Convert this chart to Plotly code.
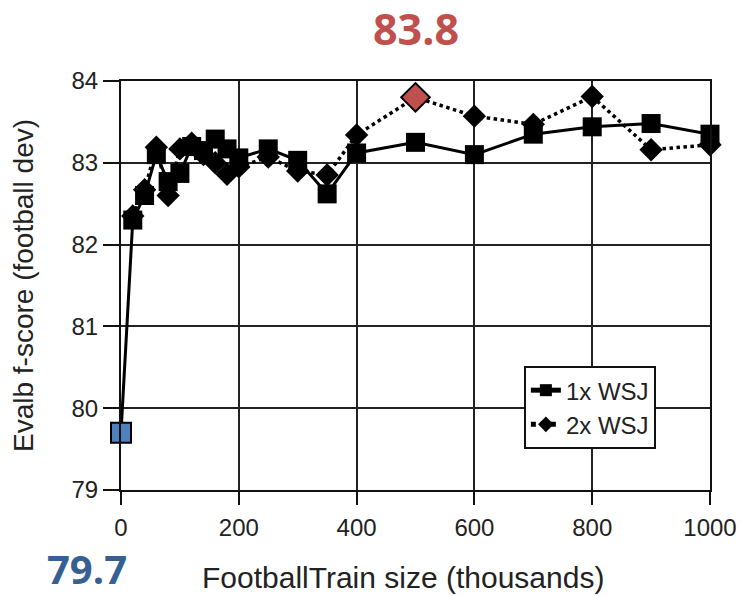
import plotly.graph_objects as go

# Training-set sizes (thousands of football sentences)
x_1x = [0, 20, 40, 60, 80, 100, 120, 140, 160, 180, 200, 250, 300, 350, 400, 500, 600, 700, 800, 900, 1000]
f_1x = [79.7, 82.30, 82.60, 83.10, 82.77, 82.87, 83.20, 83.15, 83.29, 83.17, 83.06, 83.17, 83.03, 82.62,
        83.12, 83.25, 83.10, 83.35, 83.44, 83.48, 83.35]

x_2x = [20, 40, 60, 80, 100, 120, 140, 160, 180, 200, 250, 300, 350, 400, 500, 600, 700, 800, 900, 1000]
f_2x = [82.35, 82.67, 83.19, 82.60, 83.17, 83.24, 83.10, 83.00, 82.86, 82.95, 83.07, 82.90, 82.85, 83.34,
        83.8, 83.57, 83.47, 83.81, 83.16, 83.22]

series_names = ["1x WSJ", "2x WSJ"]
x_ticks = [0, 200, 400, 600, 800, 1000]
y_ticks = [79, 80, 81, 82, 83, 84]

# Highlighted points: the baseline (first 1x point) and the 2x peak at 500k
base_idx = 0
peak_idx = x_2x.index(500)

INK = "#222222"
RED = "#C0504D"
BLUE = "#4F81BD"
BLUE_TEXT = "#376092"
AX_FONT = "Liberation Sans, Arial, sans-serif"

fig = go.Figure()

fig.add_trace(go.Scatter(
    x=x_2x, y=f_2x, name=series_names[1], mode="lines+markers",
    line=dict(color="black", width=3.5, dash="dot"),
    marker=dict(symbol="diamond", size=18, color="black"),
    cliponaxis=False, legendrank=2,
))
fig.add_trace(go.Scatter(
    x=x_1x, y=f_1x, name=series_names[0], mode="lines+markers",
    line=dict(color="black", width=3),
    marker=dict(symbol="square", size=19, color="black"),
    cliponaxis=False, legendrank=1,
))

# Coloured highlight markers
fig.add_trace(go.Scatter(
    x=[x_1x[base_idx]], y=[f_1x[base_idx]], mode="markers", showlegend=False,
    marker=dict(symbol="square", size=20, color=BLUE, line=dict(color="black", width=2)),
    cliponaxis=False,
))
fig.add_trace(go.Scatter(
    x=[x_2x[peak_idx]], y=[f_2x[peak_idx]], mode="markers", showlegend=False,
    marker=dict(symbol="diamond", size=22, color=RED, line=dict(color="black", width=2)),
    cliponaxis=False,
))

# Value call-outs for the highlighted points
fig.add_annotation(
    x=x_2x[peak_idx], xref="x", y=1.128, yref="paper",
    xanchor="center", yanchor="middle",
    text=f"{f_2x[peak_idx]:.1f}", showarrow=False,
    font=dict(family="Open Sans", size=43, color=RED, weight="bold"),
)
fig.add_annotation(
    x=x_1x[base_idx], xref="x", xshift=-34, y=-0.191, yref="paper",
    xanchor="center", yanchor="middle",
    text=f"{f_1x[base_idx]:.1f}", showarrow=False,
    font=dict(family="Open Sans", size=40, color=BLUE_TEXT, weight="bold"),
)

# x-axis title, placed as text under the tick labels
fig.add_annotation(
    x=0.479, xref="paper", y=-0.215, yref="paper",
    xanchor="center", yanchor="middle",
    text="FootballTrain size (thousands)", showarrow=False,
    font=dict(family=AX_FONT, size=30, color=INK),
)

axis_common = dict(
    showline=True, linecolor="#111111", linewidth=2, mirror=True,
    showgrid=True, gridcolor="#222222", gridwidth=2,
    ticks="outside", tickcolor="#111111", tickwidth=2,
    tickfont=dict(family=AX_FONT, size=24, color=INK),
    zeroline=False, automargin=False,
)

fig.update_xaxes(
    range=[0, 1000], tickvals=x_ticks, ticklen=13, ticklabelstandoff=2,
    **axis_common,
)
fig.update_yaxes(
    range=[79, 84], tickvals=y_ticks, ticklen=16,
    title=dict(text="Evalb f-score (football dev)",
               font=dict(family=AX_FONT, size=28, color=INK), standoff=30),
    **axis_common,
)

fig.update_layout(
    width=742, height=596,
    margin=dict(l=121, r=32, t=81, b=106),
    paper_bgcolor="white", plot_bgcolor="white",
    showlegend=True,
    legend=dict(
        x=0.684, y=0.303, xanchor="left", yanchor="top",
        bgcolor="white", bordercolor="#111111", borderwidth=2,
        font=dict(family=AX_FONT, size=24, color=INK),
        itemsizing="constant", tracegroupgap=0,
    ),
)

fig.write_html("out.html")
